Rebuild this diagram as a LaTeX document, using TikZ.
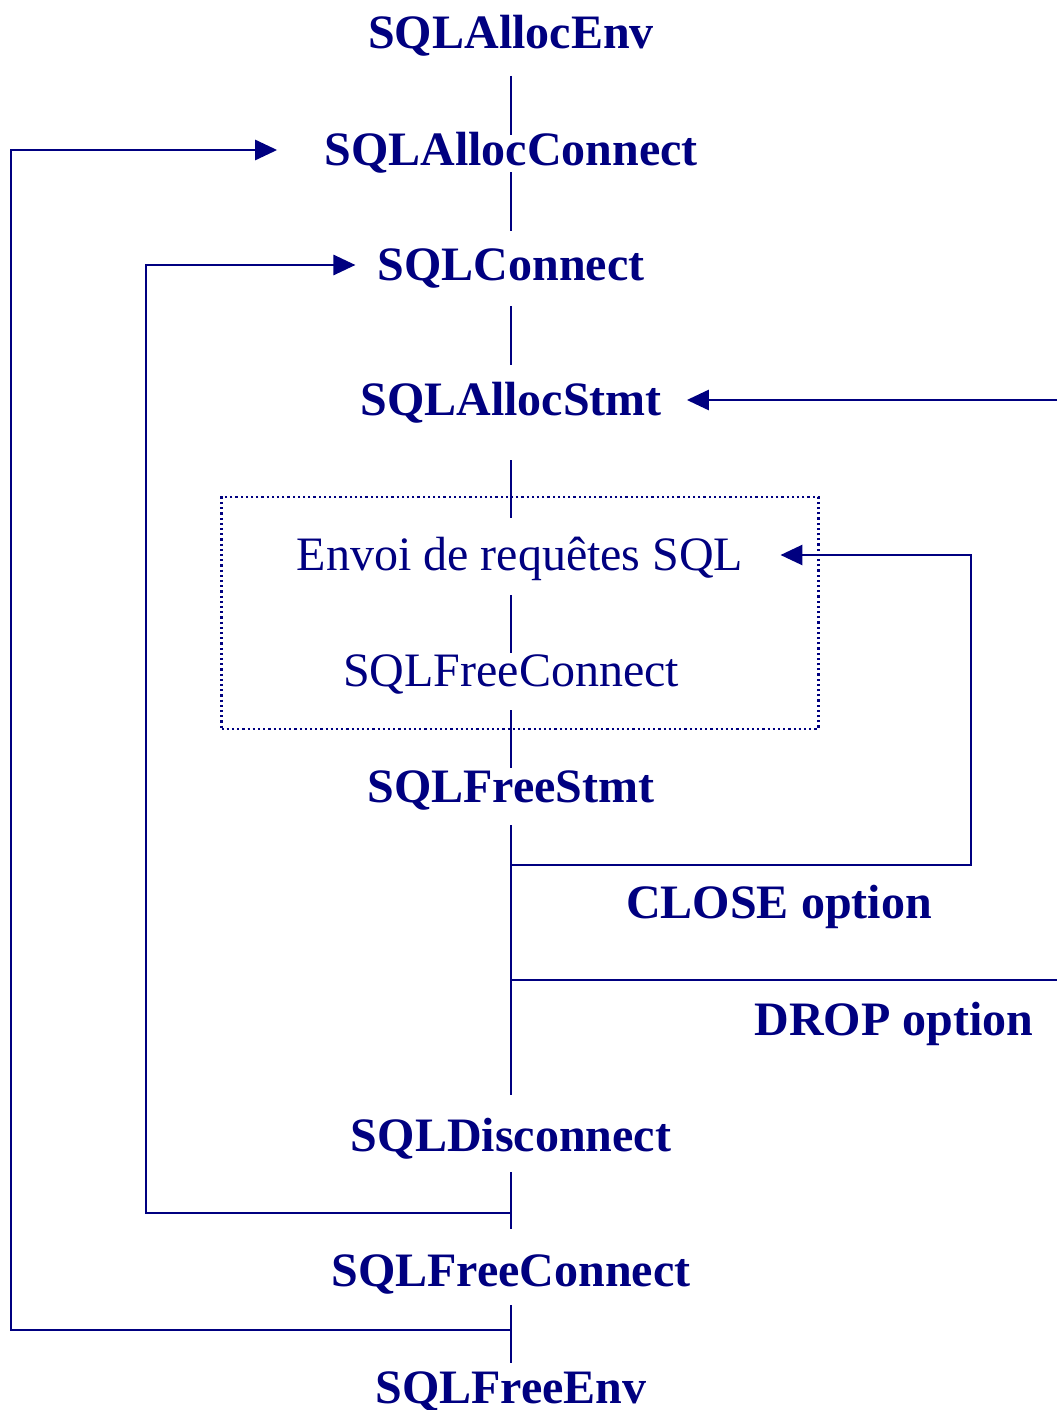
\documentclass[tikz,border=0pt]{standalone}
\usepackage{fontspec}
\setmainfont{Liberation Serif}
\usetikzlibrary{calc,fit,arrows.meta}
\definecolor{sqlblue}{HTML}{000080}
\tikzset{
  fn/.style={text=sqlblue, font=\fontsize{48}{56}\selectfont\bfseries,
             inner sep=0pt, text height=31pt, text depth=0pt},
  reg/.style={fn, font=\fontsize{48}{56}\selectfont},
  link/.style={draw=sqlblue, line width=2.8pt},
  dotbox/.style={draw=sqlblue, line width=2.2pt, dash pattern=on 2.2pt off 3pt}
}

\begin{document}
\begin{tikzpicture}[x=1pt, y=-1pt, >={Triangle[length=22pt,width=20pt]}]
  \useasboundingbox[fill=white] (0,0) rectangle (1057,1410);
  % main column
  \node[fn] (env)    at (511,33)   {SQLAllocEnv};
  \node[fn] (aconn)  at (511,150)  {SQLAllocConnect};
  \node[fn] (conn)   at (511,265)  {SQLConnect};
  \node[fn] (astmt)  at (511,400)  {SQLAllocStmt};
  \node[reg] (envoi) at (520,555)  {Envoi de requêtes SQL};
  \node[reg] (freec) at (511,671)  {SQLFreeConnect};
  \node[fn] (fstmt)  at (511,787)  {SQLFreeStmt};
  \node[fn] (close)  at (779,903)  {CLOSE option};
  \node[fn] (drop)   at (894,1020) {DROP option};
  \node[fn] (disc)   at (511,1136) {SQLDisconnect};
  \node[fn] (freecb) at (511,1271) {SQLFreeConnect};
  \node[fn] (fenv)   at (511,1388) {SQLFreeEnv};
  \node[dotbox, fit=(envoi)(freec), inner xsep=75pt, inner ysep=42pt] (box) {};
  % branch points and loop corners
  \coordinate (closeJ) at (511,865);
  \coordinate (dropJ)  at (511,980);
  \coordinate (discJ)  at (511,1213);
  \coordinate (freeJ)  at (511,1330);
  \coordinate (outerL) at (11,0);
  \coordinate (innerL) at (146,0);
  \coordinate (closeR) at (971,0);
  \coordinate (dropR)  at (1057,980);
  \coordinate (stmtR)  at (1057,400);
  % vertical links
  \draw[link] ($(env)+(0,43)$) -- ($(aconn)+(0,-15)$);
  \draw[link] ($(aconn)+(0,22)$) -- ($(conn)+(0,-34)$);
  \draw[link] ($(conn)+(0,41)$) -- ($(astmt)+(0,-35)$);
  \draw[link] ($(astmt)+(0,60)$) -- ($(envoi -| freec)+(0,-37)$);
  \draw[link] ($(envoi -| freec)+(0,40)$) -- ($(freec)+(0,-18)$);
  \draw[link] ($(freec)+(0,39)$) -- ($(fstmt)+(0,-19)$);
  \draw[link] ($(fstmt)+(0,38)$) -- ($(disc)+(0,-41)$);
  \draw[link] ($(disc)+(0,36)$) -- ($(freecb)+(0,-42)$);
  \draw[link] ($(freecb)+(0,34)$) -- ($(fenv)+(0,-25)$);
  % loops back
  \draw[link,->,shorten >=47pt] (freeJ) -| (outerL |- aconn) -- (aconn.west);
  \draw[link,->,shorten >=22pt] (discJ) -| (innerL |- conn) -- (conn.west);
  \draw[link,->,shorten >=37pt] (closeJ) -| (closeR |- envoi) -- (envoi.east);
  \draw[link] (dropJ) -- (dropR);
  \draw[link,->,shorten >=25pt] (stmtR) -- (astmt.east);
\end{tikzpicture}
\end{document}
